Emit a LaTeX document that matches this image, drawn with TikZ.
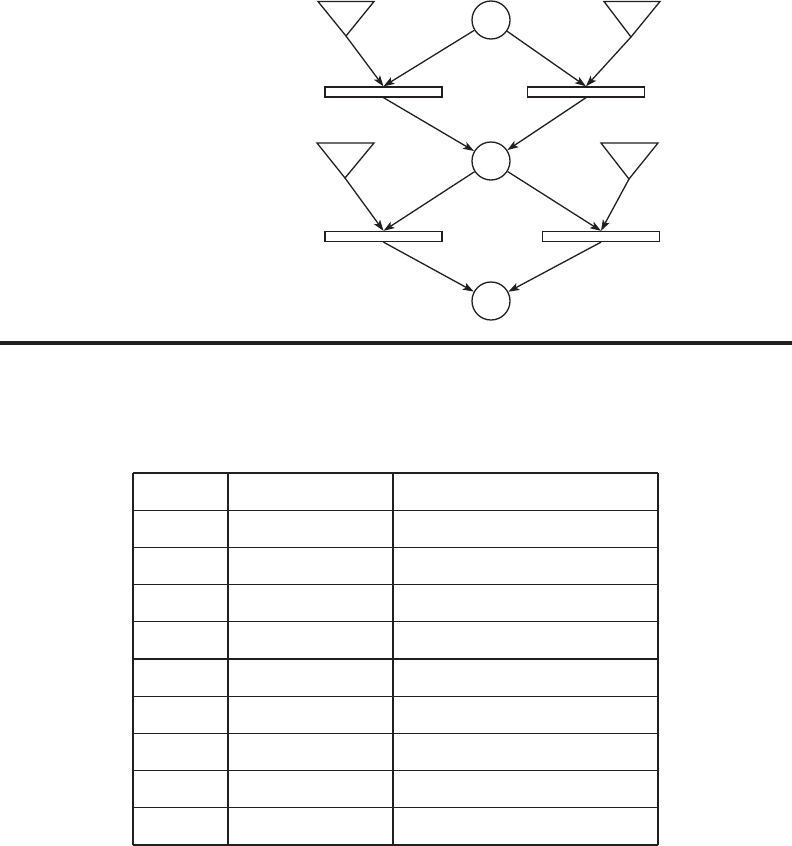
\documentclass[tikz,border=0pt]{standalone}
\usetikzlibrary{arrows.meta}
\definecolor{ink}{HTML}{231F20}
\begin{document}
\begin{tikzpicture}[x=1pt,y=-1pt,
  line width=1.3pt, draw=ink,
  place/.style={circle,draw=ink,line width=1.3pt,minimum size=38pt,inner sep=0pt},
  trans/.style={rectangle,draw=ink,line width=1.3pt,minimum width=117pt,minimum height=10pt,inner sep=0pt},
  tri/.style={draw=ink,line width=1.3pt,line join=miter},
  arc/.style={draw=ink,line width=1.3pt,-{Stealth[length=11pt,width=7.5pt,inset=2.5pt]}},
  grid/.style={draw=ink,line width=1.3pt}]
\useasboundingbox (0,0) rectangle (792,846);
% places
\node[place] (c1) at (491,20) {};
\node[place] (c2) at (491,161) {};
\node[place] (c3) at (491,301) {};
% transitions
\node[trans] (b1) at (383.5,92) {};
\node[trans] (b2) at (586,92) {};
\node[trans] (b3) at (383.5,236.5) {};
\node[trans] (b4) at (601,236.5) {};
% triangles
\coordinate (t1) at (346,36);
\coordinate (t2) at (631,37);
\coordinate (t3) at (345,178);
\coordinate (t4) at (629,179);
\draw[tri] (318,1.5) -- (374,1.5) -- (t1) -- cycle;
\draw[tri] (604,1.5) -- (660,1.5) -- (t2) -- cycle;
\draw[tri] (317,143) -- (374,143) -- (t3) -- cycle;
\draw[tri] (601,143) -- (658,143) -- (t4) -- cycle;
% arcs
\draw[arc] (t1) -- (b1.north);
\draw[arc] (c1) -- (b1.north);
\draw[arc] (c1) -- (b2.north);
\draw[arc] (t2) -- (b2.north);
\draw[arc] (b1.south) -- (c2);
\draw[arc] (b2.south) -- (c2);
\draw[arc] (t3) -- (b3.north);
\draw[arc] (c2) -- (b3.north);
\draw[arc] (c2) -- (b4.north);
\draw[arc] (t4) -- (b4.north);
\draw[arc] (b3.south) -- (c3);
\draw[arc] (b4.south) -- (c3);
% separator
\draw[draw=ink,line width=4pt] (0,343) -- (792,343);
% table
\foreach \i in {0,...,10} {
  \draw[grid] (133,{473+37.2*\i}) -- (658,{473+37.2*\i});
}
\foreach \x in {133,228,393,658} {
  \draw[grid] (\x,473) -- (\x,845);
}
\end{tikzpicture}
\end{document}
